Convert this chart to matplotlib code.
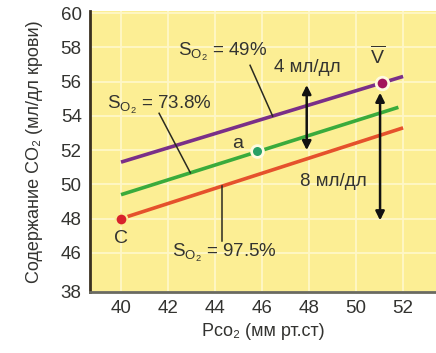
import numpy as np
import matplotlib
matplotlib.use("Agg")
import matplotlib.pyplot as plt

plt.rcParams["font.family"] = ["Liberation Sans", "DejaVu Sans"]
plt.rcParams["mathtext.fontset"] = "custom"
plt.rcParams["mathtext.rm"] = "Liberation Sans"
plt.rcParams["mathtext.it"] = "Liberation Sans:italic"
plt.rcParams["mathtext.bf"] = "Liberation Sans:bold"

# CO2 dissociation lines at three O2 saturations
pco2_range = [40, 52]
sat_49 = [51.3, 56.3]
pco2_range_738 = [40, 51.8]
sat_738 = [49.4, 54.5]
sat_975 = [48.0, 53.3]

# named points
point_c = (40.0, 48.0)
point_a = (45.8, 51.95)
point_v = (51.1, 55.9)

# difference arrows (x, y_from, y_to)
arrow_4 = (47.9, 52.0, 55.8)
arrow_8 = (51.02, 55.35, 47.9)

xticks = [40, 42, 44, 46, 48, 50, 52]
ymin, ymax = 43.72, 60.12
yticks = [ymin, 46, 48, 50, 52, 54, 56, 58, 60]
ytick_labels = ["38", "46", "48", "50", "52", "54", "56", "58", "60"]

TEXT = "#333330"
BG = "#fcee94"
GRID = "#fff7c8"
PURPLE = "#7a2f88"
GREEN = "#3aab3c"
RED = "#e5512c"

fig = plt.figure(figsize=(4.36, 3.53), dpi=100)
ax = fig.add_axes([90 / 436, 1 - 292 / 353, 1 - 90 / 436, (292 - 11) / 353])
ax.set_facecolor(BG)
ax.set_xlim(38.68, 53.4)
ax.set_ylim(ymin, ymax)

ax.set_xticks(xticks)
ax.set_xticklabels([str(v) for v in xticks])
ax.set_yticks(yticks)
ax.set_yticklabels(ytick_labels)
ax.tick_params(length=0, labelsize=13.5, colors=TEXT)
ax.tick_params(axis="y", pad=6)
ax.tick_params(axis="x", pad=6)
ax.grid(True, color=GRID, linewidth=1.3)
ax.set_axisbelow(True)
for side in ("top", "right"):
    ax.spines[side].set_visible(False)
ax.spines["left"].set_color("#3a3020")
ax.spines["left"].set_linewidth(2)
ax.spines["bottom"].set_color("#6a6a60")
ax.spines["bottom"].set_linewidth(2)

ax.set_ylabel("Содержание CO₂ (мл/дл крови)", fontsize=13, color=TEXT)
ax.yaxis.set_label_coords(-0.135, 0.5)
ax.set_xlabel("Pco₂ (мм рт.ст)", fontsize=13, color=TEXT)
ax.xaxis.set_label_coords(0.5, -0.11)

ax.plot(pco2_range, sat_49, color=PURPLE, lw=2.6, solid_capstyle="butt", zorder=3)
ax.plot(pco2_range_738, sat_738, color=GREEN, lw=2.6, solid_capstyle="butt", zorder=3)
ax.plot(pco2_range, sat_975, color=RED, lw=2.6, solid_capstyle="butt", zorder=3)

# points with a light halo
ax.plot(*point_c, "o", ms=8.5, color="#d8222c", mec=BG, mew=1.5, zorder=5)
ax.plot(*point_a, "o", ms=8.5, color="#27a066", mec="#fffbe0", mew=2, zorder=5)
ax.plot(*point_v, "o", ms=9, color="#a3145c", mec="#fffbe0", mew=2, zorder=5)

ax.text(point_c[0], point_c[1] - 1.15, "C", fontsize=14, color=TEXT, ha="center", va="center")
ax.text(point_a[0] - 0.85, point_a[1] + 0.45, "a", fontsize=14, color=TEXT, ha="center", va="center")
ax.text(point_v[0] - 0.2, point_v[1] + 1.6, r"$\overline{\mathrm{V}}$", fontsize=14,
        color=TEXT, ha="center", va="center")

# saturation labels with leader lines to their lines
def leader(x0, y0, x1, ys, xs):
    y1 = np.interp(x1, xs, ys)
    ax.plot([x0, x1], [y0, y1], color="#2a2a20", lw=1.1, zorder=4)

ax.text(42.43, 57.72, r"S$_{\mathrm{O}_2}$ = 49%", fontsize=13.5, color=TEXT, va="center", ha="left")
leader(45.49, 56.95, 46.45, sat_49, pco2_range)
ax.text(39.4, 54.63, r"S$_{\mathrm{O}_2}$ = 73.8%", fontsize=13.5, color=TEXT, va="center", ha="left")
leader(41.62, 54.15, 42.95, sat_738, pco2_range_738)
ax.text(42.17, 46.0, r"S$_{\mathrm{O}_2}$ = 97.5%", fontsize=13.5, color=TEXT, va="center", ha="left")
leader(44.3, 46.7, 44.3, sat_975, pco2_range)

# content differences
for (x, y0, y1) in (arrow_4, arrow_8):
    ax.annotate("", xy=(x, y1), xytext=(x, y0),
                arrowprops=dict(arrowstyle="<|-|>", color="#111111", lw=1.8,
                                mutation_scale=13, shrinkA=0, shrinkB=0),
                zorder=6)
ax.text(46.5, 56.8, "4 мл/дл", fontsize=13.5, color=TEXT, va="center", ha="left")
ax.text(47.6, 50.14, "8 мл/дл", fontsize=13.5, color=TEXT, va="center", ha="left")

fig.savefig("out.png", dpi=100)
